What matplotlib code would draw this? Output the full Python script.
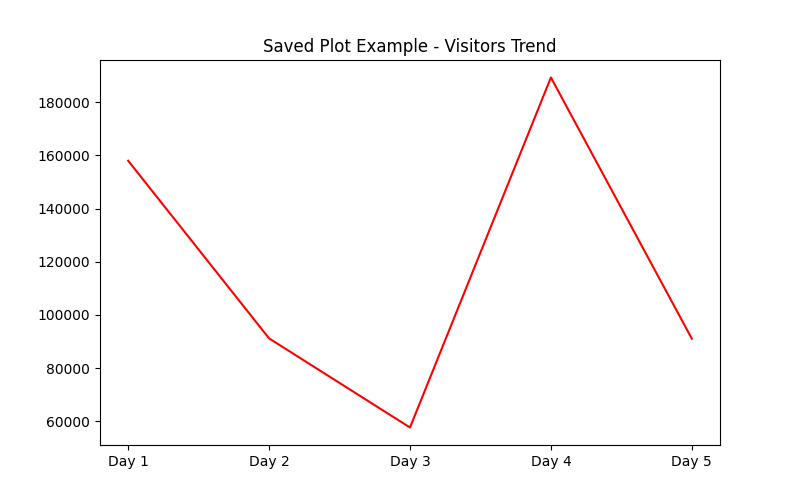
import matplotlib
matplotlib.use("Agg")
import matplotlib.pyplot as plt

days = ["Day 1", "Day 2", "Day 3", "Day 4", "Day 5"]
visitors = [158000, 91200, 57700, 189300, 91100]

plt.figure(figsize=(8, 5))
plt.plot(days, visitors, color="red")
plt.title("Saved Plot Example - Visitors Trend")
plt.savefig("out.png", dpi=100)
